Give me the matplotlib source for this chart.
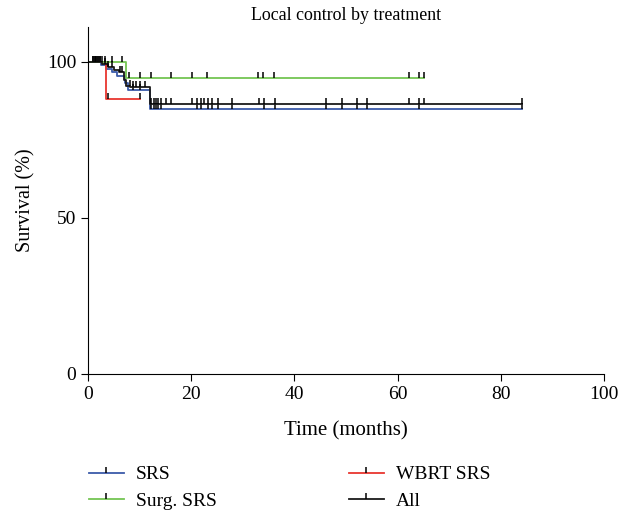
import matplotlib
matplotlib.use("Agg")
import matplotlib.pyplot as plt
from matplotlib.lines import Line2D

plt.rcParams['font.family'] = ['Liberation Serif', 'DejaVu Serif']

# Kaplan-Meier step data (time in months, survival in %)
srs_t = [0, 2.5, 3.5, 4.7, 5.7, 7.2, 7.7, 12.0, 84.2]
srs_s = [100, 98.8, 97.7, 96.5, 95.5, 93.0, 91.0, 84.8, 84.8]
srs_cens_t = [1.0, 1.6, 2.3, 8.8, 10.1, 12.2, 12.7, 13.1, 13.5, 14.1, 21.1, 21.9, 23.2, 24.0,
              25.1, 28.0, 34.1, 36.2, 46.1, 49.2, 52.2, 54.1, 64.1, 84.2]

wbrt_t = [0, 3.5, 10.1]
wbrt_s = [100, 88.1, 88.1]
wbrt_cens_t = [3.8, 10.1]

surg_t = [0, 7.3, 65.1]
surg_s = [100, 94.6, 94.6]
surg_cens_t = [1.3, 2.0, 3.3, 4.7, 6.6, 8.0, 10.1, 12.2, 16.0, 20.1, 23.1, 33.0, 34.0, 36.1,
               62.2, 64.1, 65.1]

all_t = [0, 2.8, 3.8, 5.0, 6.0, 7.0, 7.3, 8.2, 12.0, 84.2]
all_s = [100, 99.2, 98.3, 97.4, 96.5, 94.0, 92.3, 91.9, 86.4, 86.4]
all_cens_t = [1.0, 1.3, 1.6, 2.0, 2.3, 2.7, 3.3, 3.9, 4.7, 6.2, 6.6, 8.1, 8.8, 9.3, 10.1, 11.0,
              12.2, 12.7, 13.1, 13.5, 14.1, 15.1, 16.1, 20.1, 21.1, 21.9, 22.5, 23.2, 24.0,
              25.1, 28.0, 33.1, 34.1, 36.2, 46.1, 49.2, 52.2, 54.1, 62.2, 64.1, 65.2, 84.2]

series = [
    ("SRS", srs_t, srs_s, srs_cens_t, "#3b5ba9"),
    ("WBRT SRS", wbrt_t, wbrt_s, wbrt_cens_t, "#e8362f"),
    ("Surg. SRS", surg_t, surg_s, surg_cens_t, "#74c553"),
    ("All", all_t, all_s, all_cens_t, "#1a1a1a"),
]

def surv_at(ts, ss, t):
    val = ss[0]
    for ti, si in zip(ts, ss):
        if ti <= t:
            val = si
    return val

fig = plt.figure(figsize=(6.31, 5.13), dpi=100)
ax = fig.add_axes([0.1395, 0.271, 0.8175, 0.676])

handles = {}
for name, ts, ss, ct, col in series:
    ax.step(ts, ss, where='post', color=col, lw=1.3)
    cy = [surv_at(ts, ss, t) for t in ct]
    ax.plot(ct, cy, linestyle='none', marker=2, markersize=4.5,
            markeredgewidth=1.1, color='black')
    handles[name] = Line2D([0], [0], color=col, lw=1.3, marker=2, markersize=4.5,
                           markeredgewidth=1.1, markeredgecolor='black')

ax.set_xlim(0, 100)
ax.set_ylim(0, 111)
ax.set_xticks([0, 20, 40, 60, 80, 100])
ax.set_yticks([0, 50, 100])
ax.spines['top'].set_visible(False)
ax.spines['right'].set_visible(False)
ax.tick_params(direction='out', length=5, labelsize=14)
ax.set_xlabel("Time (months)", fontsize=15, labelpad=13)
ax.set_ylabel("Survival (%)", fontsize=14.5, labelpad=8)
ax.set_title("Local control by treatment", fontsize=12.9, pad=5)

order = ["SRS", "Surg. SRS", "WBRT SRS", "All"]
fig.legend([handles[n] for n in order], order, ncol=2, loc='upper left',
           bbox_to_anchor=(0.128, 0.107), borderaxespad=0, frameon=False, fontsize=14,
           numpoints=1, handlelength=1.8, columnspacing=6.8, labelspacing=0.45,
           handletextpad=0.62)

fig.savefig("out.png", dpi=100)
